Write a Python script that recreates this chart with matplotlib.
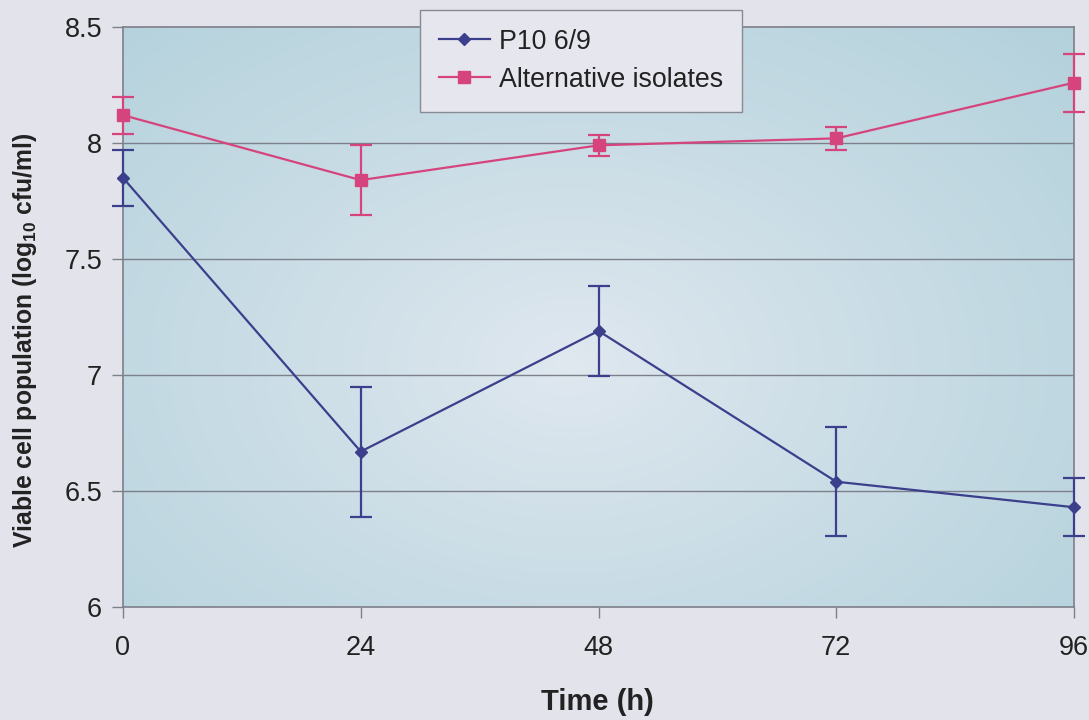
import numpy as np
import matplotlib
matplotlib.use("Agg")
import matplotlib.pyplot as plt

plt.rcParams['font.family'] = ['Liberation Sans', 'DejaVu Sans']
plt.rcParams['mathtext.fontset'] = 'custom'
plt.rcParams['mathtext.rm'] = 'Liberation Sans'
plt.rcParams['mathtext.bf'] = 'Liberation Sans:bold'

time_h = [0, 24, 48, 72, 96]
p10_mean = [7.85, 6.67, 7.19, 6.54, 6.43]
p10_err = [0.12, 0.28, 0.195, 0.235, 0.125]
alt_mean = [8.12, 7.84, 7.99, 8.02, 8.26]
alt_err = [0.08, 0.15, 0.045, 0.05, 0.125]
y_ticks = [6, 6.5, 7, 7.5, 8, 8.5]
y_tick_labels = ['6', '6.5', '7', '7.5', '8', '8.5']
x_ticks = [0, 24, 48, 72, 96]

blue = '#3b3f8c'
pink = '#d6447e'
W, H = 1089, 720

fig = plt.figure(figsize=(W / 100, H / 100), dpi=100, facecolor='#e3e3ec')
ax = fig.add_axes([123 / W, 1 - 607 / H, (1074 - 123) / W, (607 - 27) / H])

# radial gradient background for the plotting area
ny, nx = 200, 300
yy, xx = np.mgrid[0:1:ny * 1j, 0:1:nx * 1j]
r = np.sqrt(((xx - 0.47) / 0.75) ** 2 + ((yy - 0.42) / 0.85) ** 2)
r = np.clip(r, 0, 1) ** 0.9
inner = np.array([0.88, 0.91, 0.94])
outer = np.array([0.70, 0.82, 0.86])
img = inner[None, None, :] * (1 - r[..., None]) + outer[None, None, :] * r[..., None]
ax.imshow(img, extent=[0, 96, 6, 8.5], aspect='auto', zorder=0, origin='lower')

ax.set_xlim(0, 96)
ax.set_ylim(6, 8.5)

for yv in y_ticks[1:-1]:
    ax.axhline(yv, color='#7d7f8a', lw=1.0, zorder=1)

ax.errorbar(time_h, p10_mean, yerr=p10_err, color=blue, lw=1.6, marker='D', ms=6,
            capsize=8, capthick=1.6, elinewidth=1.6, label='P10 6/9', zorder=3, clip_on=False)
ax.errorbar(time_h, alt_mean, yerr=alt_err, color=pink, lw=1.6, marker='s', ms=8,
            capsize=8, capthick=1.6, elinewidth=1.6, label='Alternative isolates', zorder=3, clip_on=False)

ax.set_xticks(x_ticks)
ax.set_yticks(y_ticks)
ax.set_yticklabels(y_tick_labels)
ax.tick_params(axis='both', labelsize=19.5, colors='#7d7f8a', labelcolor='#222222',
               length=8, width=1, direction='out')
ax.tick_params(axis='x', pad=12)
ax.tick_params(axis='y', pad=7)
for s in ax.spines.values():
    s.set_color('#7d7f8a')
    s.set_linewidth(1.2)

fig.text(597 / W, 1 - 702 / H, 'Time (h)', fontsize=21, fontweight='bold',
         color='#222222', ha='center', va='center')
fig.text(25 / W, 1 - 340 / H, r'Viable cell population (log$_{\mathbf{10}}$ cfu/ml)',
         fontsize=17.8, fontweight='bold', color='#222222', ha='center', va='center',
         rotation=90)

handles, labels = ax.get_legend_handles_labels()
handles = [h[0] for h in handles]
leg = ax.legend(handles, labels, loc='upper left', bbox_to_anchor=(420 / W, 1 - 10 / H),
                bbox_transform=fig.transFigure, fontsize=19.3, frameon=True, fancybox=False,
                framealpha=1, facecolor='#e6e6ee', edgecolor='#8a8a95', handlelength=1.9,
                borderpad=0.7, labelspacing=0.45, handletextpad=0.35, borderaxespad=0)
leg.set_zorder(5)
leg.get_frame().set_linewidth(1.0)
for t in leg.get_texts():
    t.set_color('#222222')

fig.savefig('out.png', dpi=100, facecolor=fig.get_facecolor())
